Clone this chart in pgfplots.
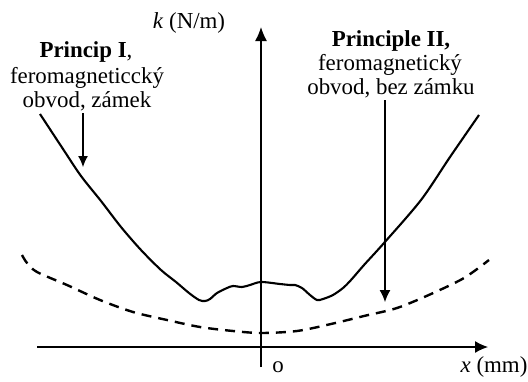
\documentclass[border=0pt]{standalone}
\usepackage{fontspec}
\setmainfont{Liberation Serif}
\usepackage{pgfplots}
\pgfplotsset{compat=1.18}
\usetikzlibrary{arrows.meta}
\newcommand\lf{\fontsize{23}{24}\selectfont}
\begin{document}
\begin{tikzpicture}
\begin{axis}[
  x=1bp, y=1bp,
  xmin=-261, xmax=267, ymin=-34, ymax=347,
  hide axis, clip=false,
]
\path (axis cs:-261,-34) rectangle (axis cs:267,347);
% axes
\addplot[black, line width=1.3bp, -{Latex[length=13bp,width=12bp]}] coordinates {(-224,0) (227,0)};
\addplot[black, line width=1.3bp, -{Latex[length=14bp,width=12bp]}] coordinates {(0,-20) (0,320)};
% solid curve: Princip I
\addplot[black, line width=2.1bp, smooth, tension=0.5] coordinates {
(-221,233) (-198,198) (-180,171) (-160,146) (-140,120) (-120,97) (-100,77)
(-85,65) (-72,54) (-62,47) (-56,46) (-51,48) (-44,54)
(-34,59) (-28,61) (-19,60) (-11,62) (0,65) (19,63) (29,62) (34,62) (41,59)
(49,52) (56,47) (62,48) (72,52) (82,59) (90,67) (103,82) (123,104) (160,147)
(189,190) (218,232)};
% dashed curve: Principle II
\addplot[black, line width=2.4bp, smooth, tension=0.5, dash pattern=on 10bp off 7bp] coordinates {
(-239,92) (-234,84) (-224,75) (-194,62) (-161,47) (-128,35) (-94,27) (-61,20)
(-28,16) (0,14) (36,16) (70,23) (103,31) (136,39) (170,53) (203,69) (228,87)};
% annotation arrows
\addplot[black, line width=1.1bp, -{Latex[length=11bp,width=10bp]}] coordinates {(-178,234) (-178,180)};
\addplot[black, line width=1.1bp, -{Latex[length=12bp,width=11bp]}] coordinates {(124,247) (124,45)};
% labels
\node[font=\lf, inner sep=0pt, anchor=base] at (axis cs:-72,319) {\textit{k} (N/m)};
\node[font=\lf, inner sep=0pt, anchor=base] at (axis cs:-175,290) {\textbf{Princip I},};
\node[font=\lf, inner sep=0pt, anchor=base] at (axis cs:-174,264) {feromagneticcký};
\node[font=\lf, inner sep=0pt, anchor=base] at (axis cs:-174,240) {obvod, zámek};
\node[font=\lf, inner sep=0pt, anchor=base] at (axis cs:130,301) {\textbf{Principle II,}};
\node[font=\lf, inner sep=0pt, anchor=base] at (axis cs:129,277) {feromagnetický};
\node[font=\lf, inner sep=0pt, anchor=base] at (axis cs:130,253) {obvod, bez zámku};
\node[font=\lf, inner sep=0pt, anchor=base] at (axis cs:17,-25) {o};
\node[font=\lf, inner sep=0pt, anchor=base] at (axis cs:233,-25) {\textit{x} (mm)};
\end{axis}
\end{tikzpicture}
\end{document}
